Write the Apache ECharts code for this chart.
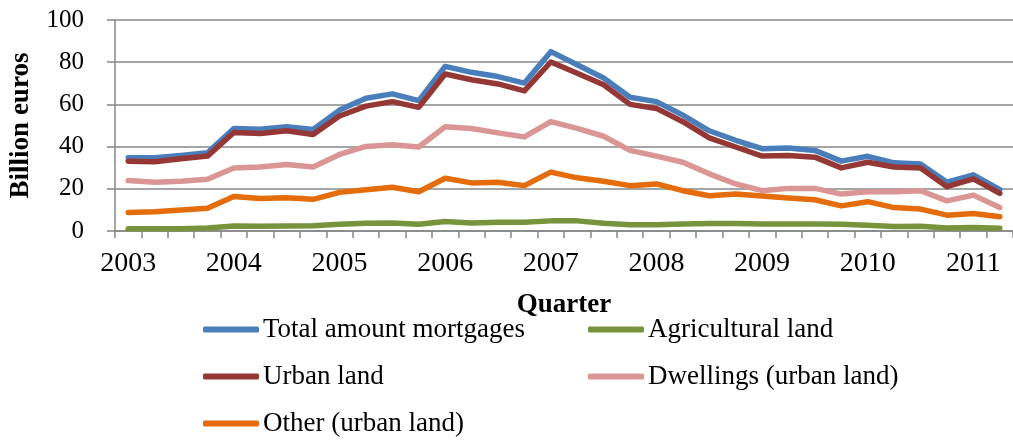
<!DOCTYPE html>
<html>
<head>
<meta charset="utf-8">
<script src="https://cdn.jsdelivr.net/npm/echarts@6/dist/echarts.min.js"></script>
<style>
  html, body { margin: 0; padding: 0; background: #ffffff; }
  #chart { width: 1013px; height: 441px; }
</style>
</head>
<body>
<div id="chart"></div>
<script>
// Quarterly mortgage amounts (billion euros), 2003 Q1 – 2011 Q2
const quarters = [
  '2003 Q1','2003 Q2','2003 Q3','2003 Q4',
  '2004 Q1','2004 Q2','2004 Q3','2004 Q4',
  '2005 Q1','2005 Q2','2005 Q3','2005 Q4',
  '2006 Q1','2006 Q2','2006 Q3','2006 Q4',
  '2007 Q1','2007 Q2','2007 Q3','2007 Q4',
  '2008 Q1','2008 Q2','2008 Q3','2008 Q4',
  '2009 Q1','2009 Q2','2009 Q3','2009 Q4',
  '2010 Q1','2010 Q2','2010 Q3','2010 Q4',
  '2011 Q1','2011 Q2'
];

const totalMortgages = [34.7,34.7,35.8,37.1,48.6,48.2,49.4,48.1,57.3,62.9,65.0,61.8,78.0,75.2,73.2,70.1,85.0,78.8,72.5,63.4,61.3,54.9,47.5,43.0,39.0,39.3,38.2,33.1,35.4,32.3,31.8,23.1,26.6,19.6];
const agriculturalLand = [1.1,1.1,1.1,1.4,2.4,2.2,2.4,2.5,3.2,3.7,3.8,3.2,4.5,3.8,4.1,4.1,4.8,4.8,3.7,3.0,3.0,3.3,3.5,3.5,3.3,3.3,3.3,3.2,2.7,2.1,2.2,1.4,1.6,1.3];
const urbanLand = [33.1,32.8,34.2,35.5,46.7,46.2,47.5,45.7,54.5,59.2,61.3,58.6,74.4,71.7,69.7,66.4,80.1,74.8,69.3,60.0,58.1,51.8,44.1,39.8,35.5,35.8,35.0,29.9,32.6,30.3,29.9,21.0,24.7,17.8];
const dwellings = [23.9,23.1,23.6,24.5,29.9,30.3,31.5,30.3,36.3,40.1,40.9,39.8,49.4,48.6,46.5,44.6,51.8,48.6,44.9,38.2,35.5,32.6,27.1,22.3,19.1,20.2,20.2,17.5,18.6,18.6,19.1,14.3,17.0,11.1];
const otherUrban = [8.8,9.1,9.9,10.8,16.4,15.4,15.8,15.0,18.3,19.6,20.7,18.6,25.0,22.8,23.1,21.5,27.9,25.2,23.6,21.5,22.3,19.1,16.7,17.5,16.6,15.6,14.8,11.9,13.9,11.1,10.4,7.5,8.3,6.8];

const seriesNames = ['Total amount mortgages','Agricultural land','Urban land','Dwellings (urban land)','Other (urban land)'];
const seriesColors = ['#4A7EBB','#77933C','#953735','#D99694','#E46C0A'];
const seriesValues = [totalMortgages, agriculturalLand, urbanLand, dwellings, otherUrban];

const FONT = "'Liberation Serif', 'DejaVu Serif', serif";
const GRID_GREY = '#878787';

const chart = echarts.init(document.getElementById('chart'), null, { renderer: 'canvas' });

const legendCommon = {
  orient: 'vertical',
  icon: 'roundRect',
  itemWidth: 56,
  itemHeight: 6,
  itemGap: 20,
  padding: 0,
  textStyle: { fontFamily: FONT, fontSize: 27, color: '#000', padding: [0, 0, 0, -1] },
  selectedMode: false
};

chart.setOption({
  animation: false,
  backgroundColor: '#ffffff',
  grid: { left: 113, right: -7, top: 20, bottom: 210, containLabel: false },
  legend: [
    Object.assign({}, legendCommon, {
      left: 203, top: 316,
      data: [seriesNames[0], seriesNames[2], seriesNames[4]]
    }),
    Object.assign({}, legendCommon, {
      left: 588, top: 316,
      data: [seriesNames[1], seriesNames[3]]
    })
  ],
  xAxis: {
    type: 'category',
    data: quarters,
    boundaryGap: true,
    name: 'Quarter',
    nameLocation: 'middle',
    nameGap: 61,
    nameTextStyle: { fontFamily: FONT, fontSize: 27, fontWeight: 'bold', color: '#000' },
    axisLine: { lineStyle: { color: GRID_GREY, width: 1.5 } },
    axisTick: { show: true, interval: 0, length: 7, lineStyle: { color: GRID_GREY, width: 1.5 } },
    axisLabel: {
      interval: 3,
      margin: 19,
      fontFamily: FONT, fontSize: 28, color: '#000',
      formatter: (v) => v.slice(0, 4)
    },
    splitLine: { show: false }
  },
  yAxis: {
    type: 'value',
    min: 0, max: 100, interval: 20,
    name: 'Billion euros',
    nameLocation: 'middle',
    nameGap: 80,
    nameRotate: 90,
    nameTextStyle: { fontFamily: FONT, fontSize: 27, fontWeight: 'bold', color: '#000' },
    axisLine: { show: true, lineStyle: { color: GRID_GREY, width: 1.5 } },
    axisTick: { show: true, length: 8, lineStyle: { color: GRID_GREY, width: 1.5 } },
    axisLabel: { margin: 31, fontFamily: FONT, fontSize: 25, color: '#000' },
    splitLine: { show: true, lineStyle: { color: GRID_GREY, width: 1.5 } }
  },
  series: seriesNames.map((name, i) => ({
    name: name,
    type: 'line',
    data: seriesValues[i],
    showSymbol: false,
    symbol: 'none',
    smooth: false,
    color: seriesColors[i],
    lineStyle: { width: 5.5, color: seriesColors[i], cap: 'round', join: 'round' },
    emphasis: { disabled: true }
  }))
});
</script>
</body>
</html>
